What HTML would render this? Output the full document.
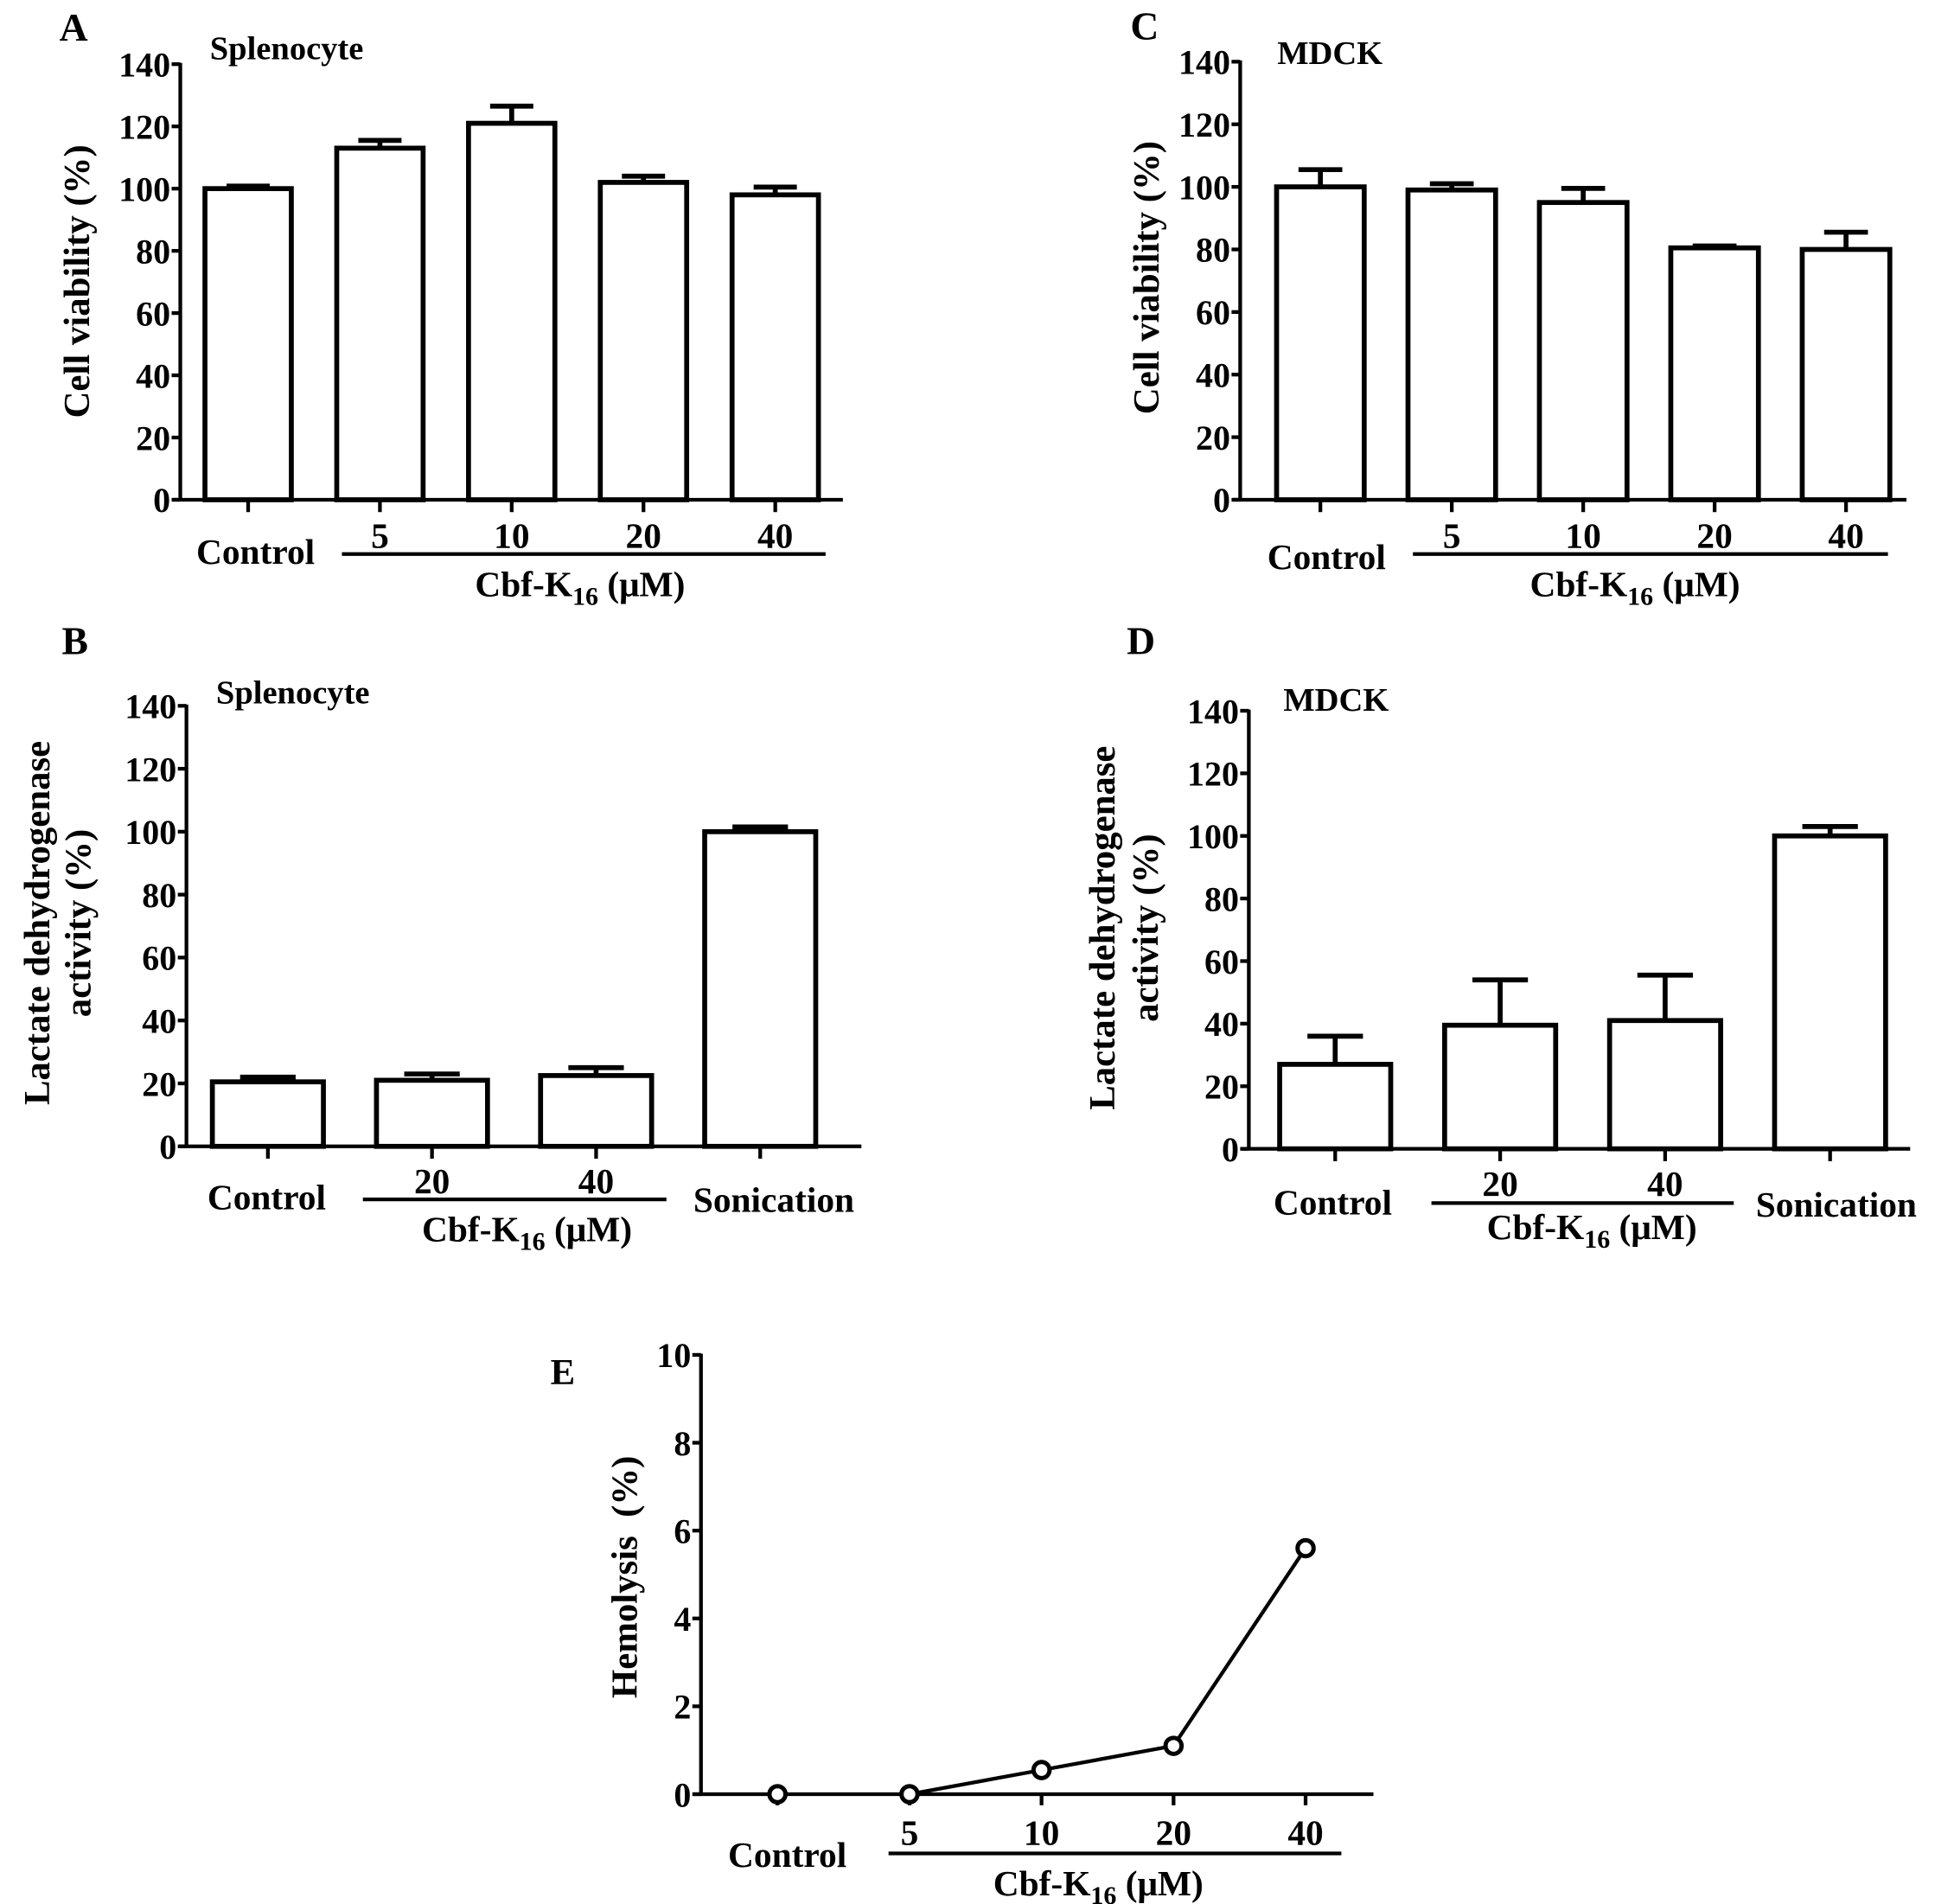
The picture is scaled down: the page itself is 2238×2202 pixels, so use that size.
<!DOCTYPE html>
<html><head><meta charset="utf-8"><style>
html,body{margin:0;padding:0;background:#fff;}
svg{display:block;}
text{font-family:"Liberation Serif",serif;font-weight:bold;fill:#000;}
</style></head><body>
<svg id="fig" width="2238" height="2202" viewBox="0 0 1568 1543" xmlns="http://www.w3.org/2000/svg"></svg>
<script>
// Panel A data
const aCategories = ["Control","5","10","20","40"];
const aValues = [100,113,121,102,98];
const aErrors = [0.8,2.5,5.5,2,2.5];
// Panel C data
const cCategories = ["Control","5","10","20","40"];
const cValues = [100,99,95,80.5,80];
const cErrors = [5.5,2,4.5,0.6,5.5];
// Panel B data
const bCategories = ["Control","20","40","Sonication"];
const bValues = [20.5,21,22.5,100];
const bErrors = [1.5,2,2.5,1.5];
// Panel D data
const dCategories = ["Control","20","40","Sonication"];
const dValues = [27,39.5,41,100];
const dErrors = [9,14.5,14.5,3];
// Panel E data
const eCategories = ["Control","5","10","20","40"];
const eValues = [0,0,0.55,1.1,5.6];
const barTicks = [0,20,40,60,80,100,120,140];
const eTicks = [0,2,4,6,8,10];

const NS="http://www.w3.org/2000/svg";
const svg=document.getElementById('fig');
function mk(tag,attrs,parent,txt){
  const e=document.createElementNS(NS,tag);
  for(const k in attrs)e.setAttribute(k,attrs[k]);
  if(txt!==undefined)e.textContent=txt;
  (parent||svg).appendChild(e);return e;
}
function cbfLabel(g,x,y){
  const t=mk('text',{x:x,y:y,'font-size':29,'text-anchor':'middle'},g);
  
  
  mk('tspan',{},t,'Cbf-K');
  mk('tspan',{'font-size':21,dy:7},t,'16');
  mk('tspan',{dy:-7},t,' (μM)');
}
function barPanel(o){
  const g=mk('g',{});
  
  
  const y=v=>o.y0-(v/140)*(o.y0-o.yTop);
  const L=mk('text',{x:o.letterX,y:o.letterY,'font-size':32},g,o.letter);
  
  
  const T=mk('text',{x:o.titleX,y:o.titleY,'font-size':27},g,o.title);
  
  
  const ya=mk('line',{x1:o.ax,y1:o.yTop-1,x2:o.ax,y2:o.y0,stroke:'#000','stroke-width':3},g);
  
  
  barTicks.forEach(t=>{
    mk('line',{x1:o.ax-7,y1:y(t),x2:o.ax,y2:y(t),stroke:'#000','stroke-width':3},g);
    const tl=mk('text',{x:o.ax-8,y:y(t)+10,'font-size':28,'text-anchor':'end'},g,String(t));
    
    
  });
  const bw=o.bw;
  o.cats.forEach((c,i)=>{
    const cx=o.c0+i*o.step;
    const v=o.vals[i], e=o.errs[i];
    const eb=mk('line',{x1:cx,y1:y(v),x2:cx,y2:y(v+e),stroke:'#000','stroke-width':4},g);
    
    
    mk('line',{x1:cx-bw*0.25,y1:y(v+e),x2:cx+bw*0.25,y2:y(v+e),stroke:'#000','stroke-width':4},g);
    const r=mk('rect',{x:cx-bw/2,y:y(v),width:bw,height:o.y0-y(v),fill:'#fff',stroke:'#000','stroke-width':4},g);
    
    
    mk('line',{x1:cx,y1:o.y0,x2:cx,y2:o.y0+10,stroke:'#000','stroke-width':3},g);
    const isNum=/^\d+$/.test(c);
    const lx=isNum?cx:cx+(c==='Control'?o.ctrlOff:o.sonOff);
    const ly=isNum?o.numY:(c==='Control'?o.ctrlY:o.sonY);
    const tl=mk('text',{x:lx,y:ly,'font-size':29,'text-anchor':'middle'},g,c);
    
    
  });
  const xa=mk('line',{x1:o.ax-6,y1:o.y0,x2:o.axEnd,y2:o.y0,stroke:'#000','stroke-width':3},g);
  
  
  mk('line',{x1:o.gl1,y1:o.gly,x2:o.gl2,y2:o.gly,stroke:'#000','stroke-width':3},g);
  cbfLabel(g,o.cbfX,o.cbfY);
  o.ylab.forEach((s,k)=>{
    const yl=mk('text',{x:0,y:0,'font-size':30,'text-anchor':'middle',transform:`translate(${o.ylx[k]},${o.yly}) rotate(-90)`},g,s);
    
    
  });
}
barPanel({name:'panel-a',letter:'A',letterX:48,letterY:33,title:'Splenocyte',titleX:170,titleY:48,
  ax:146,yTop:52,y0:405,axEnd:683,cats:aCategories,vals:aValues,errs:aErrors,c0:201,step:106.8,bw:70,
  numY:444,ctrlY:457,ctrlOff:6,sonY:0,sonOff:0,gl1:277,gl2:669,gly:449,cbfX:470,cbfY:483,
  ylab:['Cell viability (%)'],ylx:[72],yly:228});
barPanel({name:'panel-c',letter:'C',letterX:916,letterY:32,title:'MDCK',titleX:1035,titleY:52,
  ax:1005,yTop:50,y0:405,axEnd:1545,cats:cCategories,vals:cValues,errs:cErrors,c0:1070,step:106.5,bw:71,
  numY:444,ctrlY:461,ctrlOff:5,sonY:0,sonOff:0,gl1:1145,gl2:1530,gly:449,cbfX:1325,cbfY:483,
  ylab:['Cell viability (%)'],ylx:[939],yly:225});
barPanel({name:'panel-b',letter:'B',letterX:50,letterY:530,title:'Splenocyte',titleX:175,titleY:570,
  ax:151,yTop:572,y0:929,axEnd:698,cats:bCategories,vals:bValues,errs:bErrors,c0:217,step:133,bw:90,
  numY:967,ctrlY:980,ctrlOff:-1,sonY:982,sonOff:11,gl1:294,gl2:540,gly:972,cbfX:427,cbfY:1006,
  ylab:['Lactate dehydrogenase','activity (%)'],ylx:[40,73],yly:748});
barPanel({name:'panel-d',letter:'D',letterX:913,letterY:530,title:'MDCK',titleX:1040,titleY:576,
  ax:1012,yTop:576,y0:931,axEnd:1548,cats:dCategories,vals:dValues,errs:dErrors,c0:1082,step:133.7,bw:90,
  numY:969,ctrlY:984,ctrlOff:-2,sonY:986,sonOff:5,gl1:1160,gl2:1405,gly:975,cbfX:1290,cbfY:1004,
  ylab:['Lactate dehydrogenase','activity (%)'],ylx:[903,938],yly:752});

// Panel E
(function(){
  const g=mk('g',{});
  
  
  const ax=568,yTop=1098,y0=1454,axEnd=1113;
  const y=v=>y0-(v/10)*(y0-yTop);
  const xs=i=>630+i*107;
  const L=mk('text',{x:446,y:1122,'font-size':30},g,'E');
  
  
  const ya=mk('line',{x1:ax,y1:yTop-1,x2:ax,y2:y0,stroke:'#000','stroke-width':3},g);
  
  
  eTicks.forEach(t=>{
    mk('line',{x1:ax-7,y1:y(t),x2:ax,y2:y(t),stroke:'#000','stroke-width':3},g);
    const tl=mk('text',{x:ax-8,y:y(t)+10,'font-size':28,'text-anchor':'end'},g,String(t));
    
    
  });
  const xa=mk('line',{x1:ax-6,y1:y0,x2:axEnd,y2:y0,stroke:'#000','stroke-width':3},g);
  
  
  let pts=[];
  eCategories.forEach((c,i)=>{
    mk('line',{x1:xs(i),y1:y0,x2:xs(i),y2:y0+9,stroke:'#000','stroke-width':3},g);
    if(i>0)pts.push(xs(i)+','+y(eValues[i]));
    const isNum=/^\d+$/.test(c);
    const tl=mk('text',{x:isNum?xs(i):xs(i)+8,y:isNum?1495:1513,'font-size':29,'text-anchor':'middle'},g,c);
    
    
  });
  const pl=mk('polyline',{points:pts.join(' '),fill:'none',stroke:'#000','stroke-width':3},g);
  
  
  eCategories.forEach((c,i)=>{
    const cc=mk('circle',{cx:xs(i),cy:y(eValues[i]),r:6.5,fill:'#fff',stroke:'#000','stroke-width':3.5},g);
    
    
  });
  mk('line',{x1:720,y1:1502,x2:1087,y2:1502,stroke:'#000','stroke-width':3},g);
  cbfLabel(g,890,1536);
  const yl=mk('text',{x:0,y:0,'font-size':30,'text-anchor':'middle',transform:'translate(516,1278) rotate(-90)'},g,'Hemolysis\u00a0\u00a0(%)');
  
  
})();
</script>
</body></html>
